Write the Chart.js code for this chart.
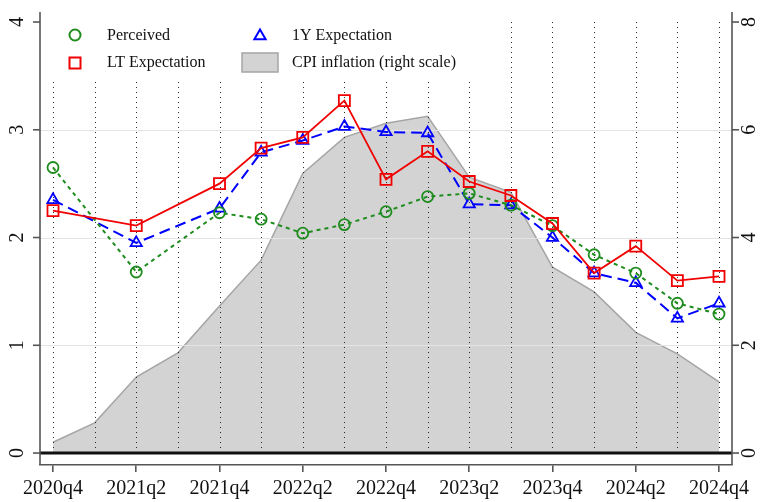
<!DOCTYPE html>
<html>
<head>
<meta charset="utf-8">
<script src="https://cdn.jsdelivr.net/npm/chart.js@4/dist/chart.umd.min.js"></script>
<style>
  html, body { margin: 0; padding: 0; background: #fff; }
  #wrap { width: 767px; height: 502px; }
</style>
</head>
<body>
<div id="wrap"><canvas id="c" width="767" height="502"></canvas></div>
<script>
// ---- data ----
const quarters = ['2020q4','2021q1','2021q2','2021q3','2021q4','2022q1','2022q2','2022q3','2022q4',
                  '2023q1','2023q2','2023q3','2023q4','2024q1','2024q2','2024q3','2024q4'];
const perceived = [2.65, null, 1.68, null, 2.23, 2.17, 2.04, 2.12, 2.24, 2.38, 2.41, 2.30, 2.11, 1.84, 1.67, 1.39, 1.29];
const oneYearExp = [2.35, null, 1.95, null, 2.27, 2.79, 2.90, 3.03, 2.98, 2.97, 2.31, 2.30, 2.00, 1.67, 1.58, 1.25, 1.39];
const longTermExp = [2.25, null, 2.11, null, 2.50, 2.83, 2.93, 3.27, 2.54, 2.80, 2.52, 2.39, 2.13, 1.67, 1.92, 1.60, 1.64];
const cpiInflation = [0.20, 0.56, 1.41, 1.86, 2.73, 3.58, 5.19, 5.86, 6.12, 6.25, 5.12, 4.84, 3.45, 2.99, 2.24, 1.84, 1.32];
const leftTicks = [0, 1, 2, 3, 4];
const rightTicks = [0, 2, 4, 6, 8];
const xTickIdx = [0, 2, 4, 6, 8, 10, 12, 14, 16];
const seriesNames = ['Perceived', '1Y Expectation', 'LT Expectation', 'CPI inflation (right scale)'];

const FONT = '"Liberation Serif", "Times New Roman", serif';
const GREEN = 'rgb(30,140,30)';
const BLUE = 'rgb(0,0,255)';
const RED = 'rgb(240,0,0)';
const AREA = 'rgb(211,211,211)';
const AREA_EDGE = 'rgb(165,165,165)';

const pts = arr => arr.map((v, i) => ({ x: i, y: v }));

const overlay = {
  id: 'overlay',
  afterDatasetDraw(chart, args) {
    if (args.index !== 3) return;
    const ctx = chart.ctx, a = chart.chartArea;
    const x = chart.scales.x, y = chart.scales.y;
    ctx.save();
    // horizontal grid lines
    ctx.strokeStyle = 'rgb(228,228,228)';
    ctx.lineWidth = 1;
    [1, 2, 3].forEach(v => {
      const py = Math.round(y.getPixelForValue(v)) + 0.5;
      ctx.beginPath(); ctx.moveTo(a.left, py); ctx.lineTo(a.right, py); ctx.stroke();
    });
    // dotted vertical lines at each quarter
    ctx.strokeStyle = 'rgb(40,40,40)';
    ctx.setLineDash([1, 4]);
    const top = y.getPixelForValue(4), bot = y.getPixelForValue(0);
    quarters.forEach((q, i) => {
      const px = Math.round(x.getPixelForValue(i)) + 0.5;
      ctx.beginPath(); ctx.moveTo(px, top); ctx.lineTo(px, bot); ctx.stroke();
    });
    ctx.setLineDash([]);
    // legend box (white)
    ctx.fillStyle = '#fff';
    ctx.fillRect(a.left + 2, a.top + 2, 450, 66);
    // legend entries
    ctx.font = '16px ' + FONT;
    ctx.fillStyle = '#111';
    ctx.textBaseline = 'middle';
    ctx.textAlign = 'left';
    ctx.fillText(seriesNames[0], 107, 36);
    ctx.fillText(seriesNames[1], 292, 36);
    ctx.fillText(seriesNames[2], 107, 63);
    ctx.fillText(seriesNames[3], 292, 63);
    ctx.lineWidth = 2;
    // circle
    ctx.strokeStyle = GREEN;
    ctx.beginPath(); ctx.arc(75, 35, 5.5, 0, Math.PI * 2); ctx.stroke();
    // triangle
    ctx.strokeStyle = BLUE;
    const r = 6.5, tx = 260, ty = 35;
    ctx.beginPath();
    for (let k = 0; k < 3; k++) {
      const ang = -Math.PI / 2 + k * 2 * Math.PI / 3;
      const px = tx + r * Math.cos(ang), py = ty + 1 + r * Math.sin(ang);
      if (k === 0) ctx.moveTo(px, py); else ctx.lineTo(px, py);
    }
    ctx.closePath(); ctx.stroke();
    // square
    ctx.strokeStyle = RED;
    ctx.strokeRect(69.5, 57.5, 11, 11);
    // gray box
    ctx.fillStyle = AREA;
    ctx.fillRect(242, 53, 36, 19);
    ctx.strokeStyle = AREA_EDGE;
    ctx.lineWidth = 1.5;
    ctx.strokeRect(242, 53, 36, 19);
    ctx.restore();
  },
  afterDatasetsDraw(chart) {
    const ctx = chart.ctx, a = chart.chartArea;
    const y = chart.scales.y, y2 = chart.scales.y2;
    ctx.save();
    // thick zero line
    const z = y.getPixelForValue(0);
    ctx.strokeStyle = '#111';
    ctx.lineWidth = 3;
    ctx.beginPath(); ctx.moveTo(a.left, z); ctx.lineTo(a.right, z); ctx.stroke();
    // axis lines
    ctx.strokeStyle = '#555';
    ctx.lineWidth = 1.6;
    ctx.beginPath(); ctx.moveTo(a.left, a.top); ctx.lineTo(a.left, a.bottom); ctx.stroke();
    ctx.beginPath(); ctx.moveTo(a.right, a.top); ctx.lineTo(a.right, a.bottom); ctx.stroke();
    // ticks + labels
    ctx.font = '20px ' + FONT;
    ctx.fillStyle = '#111';
    ctx.textAlign = 'center';
    ctx.textBaseline = 'middle';
    leftTicks.forEach(v => {
      const py = y.getPixelForValue(v);
      ctx.beginPath(); ctx.moveTo(a.left - 7, py); ctx.lineTo(a.left, py); ctx.stroke();
      ctx.save(); ctx.translate(18, py); ctx.rotate(-Math.PI / 2); ctx.fillText(String(v), 0, 0); ctx.restore();
    });
    rightTicks.forEach(v => {
      const py = y2.getPixelForValue(v);
      ctx.beginPath(); ctx.moveTo(a.right, py); ctx.lineTo(a.right + 7, py); ctx.stroke();
      ctx.save(); ctx.translate(750, py); ctx.rotate(-Math.PI / 2); ctx.fillText(String(v), 0, 0); ctx.restore();
    });
    ctx.restore();
  }
};

const lineCommon = { spanGaps: true, fill: false, tension: 0, pointBackgroundColor: 'rgba(0,0,0,0)', pointBorderWidth: 1.8, pointHoverRadius: 0 };

new Chart(document.getElementById('c'), {
  type: 'line',
  data: {
    datasets: [
      Object.assign({}, lineCommon, { label: seriesNames[0], data: pts(perceived), yAxisID: 'y', order: 1,
        borderColor: GREEN, borderWidth: 2, borderDash: [4, 4], pointStyle: 'circle', pointRadius: 5.5, pointBorderColor: GREEN }),
      Object.assign({}, lineCommon, { label: seriesNames[1], data: pts(oneYearExp), yAxisID: 'y', order: 2,
        borderColor: BLUE, borderWidth: 2, borderDash: [11, 6], pointStyle: 'triangle', pointRadius: 6.5, pointBorderColor: BLUE }),
      Object.assign({}, lineCommon, { label: seriesNames[2], data: pts(longTermExp), yAxisID: 'y', order: 0,
        borderColor: RED, borderWidth: 1.8, pointStyle: 'rect', pointRadius: 7.8, pointBorderColor: RED }),
      { label: seriesNames[3], data: pts(cpiInflation), yAxisID: 'y2', order: 10,
        borderColor: AREA_EDGE, borderWidth: 1.5, backgroundColor: AREA, fill: 'origin', pointRadius: 0, tension: 0 }
    ]
  },
  options: {
    responsive: false,
    devicePixelRatio: 1,
    animation: false,
    events: [],
    layout: { padding: { left: 40, right: 35, top: 12, bottom: 0 } },
    plugins: { legend: { display: false }, tooltip: { enabled: false } },
    scales: {
      x: {
        type: 'linear', min: -0.3125, max: 16.3125,
        afterBuildTicks: s => { s.ticks = xTickIdx.map(v => ({ value: v })); },
        afterFit: s => { s.height = 37; },
        ticks: { autoSkip: false, maxRotation: 0, minRotation: 0, padding: 7, color: '#111',
                 font: { family: FONT, size: 20, lineHeight: 1.0 }, callback: v => quarters[v] ?? '' },
        grid: { drawOnChartArea: false, drawTicks: true, tickLength: 7, color: '#555', lineWidth: 1.6 },
        border: { display: true, color: '#555', width: 1.6 }
      },
      y: { display: false, min: -0.111, max: 4.093 },
      y2: { display: false, min: -0.222, max: 8.186 }
    }
  },
  plugins: [overlay]
});
</script>
</body>
</html>
